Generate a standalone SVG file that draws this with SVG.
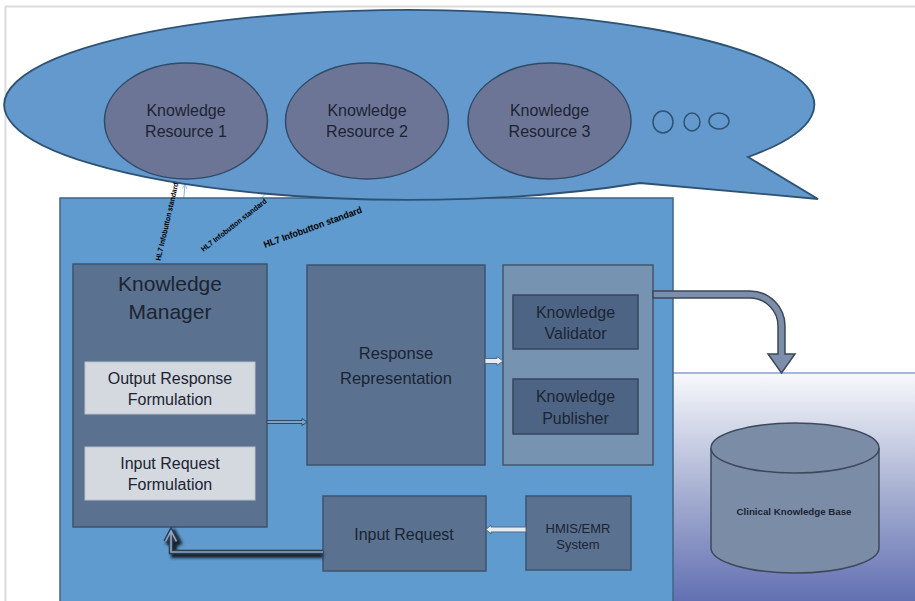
<svg xmlns="http://www.w3.org/2000/svg" width="915" height="601" viewBox="0 0 915 601">
<defs>
<linearGradient id="kbg" x1="0" y1="0" x2="0" y2="1">
<stop offset="0" stop-color="#f8f9fc"/>
<stop offset="0.5" stop-color="#aab3d4"/>
<stop offset="1" stop-color="#6270b2"/>
</linearGradient>
<filter id="sh" x="-20%" y="-50%" width="140%" height="200%"><feGaussianBlur stdDeviation="1.6"/></filter>
<marker id="lb" viewBox="0 0 10 10" refX="9" refY="5" markerWidth="6" markerHeight="6" orient="auto"><path d="M1 1 L9 5 L1 9" fill="none" stroke="#7fb2e2" stroke-width="1.2"/></marker>
</defs>
<style>
.t{font-family:"Liberation Sans",Arial,sans-serif;fill:#1b2433;text-anchor:middle}
.box{fill:#5a7190;stroke:#3e5470;stroke-width:1.5}
.light{fill:#d4d8df;stroke:#b9c0cb;stroke-width:1}
.dark{fill:#4d6484;stroke:#33475f;stroke-width:1.5}
.res{fill:#6d7596;stroke:#2f4b68;stroke-width:1.5}
.dot{fill:#6399cd;stroke:#2e5273;stroke-width:1.5}
.hl7{font-family:"Liberation Sans",Arial,sans-serif;font-weight:bold;fill:#000}
.cn{fill:none;stroke:#7fb2e2;stroke-width:1}
</style>
<path d="M5.5 601 V6.5 H915" fill="none" stroke="#dcdcdc" stroke-width="2"/>

<g id="connectors-hl7">
<line class="cn" x1="178" y1="264" x2="185" y2="184" marker-end="url(#lb)"/>
<line class="cn" x1="205" y1="262" x2="267" y2="192"/>
<line class="cn" x1="270" y1="262" x2="395" y2="197"/>
</g>

<g id="kb-area">
<rect x="673" y="373" width="242" height="228" fill="url(#kbg)"/>
<line x1="673" y1="373" x2="915" y2="373" stroke="#4e6fc2" stroke-width="1.2"/>
</g>

<g id="main-box">
<rect x="60" y="198" width="613" height="410" fill="#5f9bcf" stroke="#3f6688" stroke-width="1.5"/>
</g>

<g id="resources-bubble">
<path d="M748 157 L818 199 L640 183 A405 95 0 1 1 748 157 Z" fill="#6399cd" stroke="#2e5273" stroke-width="1.8"/>
</g>
<g id="resource-1">
<ellipse class="res" cx="186" cy="121" rx="81.5" ry="58"/>
<text class="t" x="186" y="116" font-size="16">Knowledge</text>
<text class="t" x="186" y="137" font-size="16">Resource 1</text>
</g>
<g id="resource-2">
<ellipse class="res" cx="367" cy="121" rx="81.5" ry="58"/>
<text class="t" x="367" y="116" font-size="16">Knowledge</text>
<text class="t" x="367" y="137" font-size="16">Resource 2</text>
</g>
<g id="resource-3">
<ellipse class="res" cx="549.5" cy="121" rx="81.5" ry="58"/>
<text class="t" x="549.5" y="116" font-size="16">Knowledge</text>
<text class="t" x="549.5" y="137" font-size="16">Resource 3</text>
</g>
<g id="more-resources">
<ellipse class="dot" cx="663" cy="122" rx="10" ry="11"/>
<ellipse class="dot" cx="692" cy="122" rx="8" ry="9"/>
<ellipse class="dot" cx="719" cy="121" rx="10" ry="8"/>
</g>

<g id="knowledge-manager">
<rect class="box" x="73" y="264" width="194" height="263"/>
<text class="t" x="170" y="291" font-size="21">Knowledge</text>
<text class="t" x="170" y="319" font-size="21">Manager</text>
</g>
<g id="output-response-formulation">
<rect class="light" x="85" y="362" width="170" height="52"/>
<text class="t" x="170" y="384" font-size="16">Output Response</text>
<text class="t" x="170" y="405" font-size="16">Formulation</text>
</g>
<g id="input-request-formulation">
<rect class="light" x="85" y="447" width="170" height="53"/>
<text class="t" x="170" y="469" font-size="16">Input Request</text>
<text class="t" x="170" y="490" font-size="16">Formulation</text>
</g>

<g id="response-representation">
<rect class="box" x="307" y="265" width="178" height="200"/>
<text class="t" x="396" y="359" font-size="16.5">Response</text>
<text class="t" x="396" y="384" font-size="16.5">Representation</text>
</g>

<g id="validation-publishing">
<rect x="503" y="265" width="150" height="200" fill="#7793b2" stroke="#44566a" stroke-width="1.5"/>
</g>
<g id="knowledge-validator">
<rect class="dark" x="513" y="295" width="125" height="54"/>
<text class="t" x="575.5" y="318" font-size="16">Knowledge</text>
<text class="t" x="575.5" y="339" font-size="16">Validator</text>
</g>
<g id="knowledge-publisher">
<rect class="dark" x="513" y="379" width="125" height="55"/>
<text class="t" x="575.5" y="402" font-size="16">Knowledge</text>
<text class="t" x="575.5" y="424" font-size="16">Publisher</text>
</g>

<g id="input-request">
<rect class="box" x="323" y="496" width="163" height="75"/>
<text class="t" x="404" y="540" font-size="16">Input Request</text>
</g>
<g id="hmis-emr">
<rect class="box" x="526" y="496" width="105" height="74"/>
<text class="t" x="578" y="533" font-size="13">HMIS/EMR</text>
<text class="t" x="578" y="549" font-size="13">System</text>
</g>

<g id="clinical-knowledge-base">
<path d="M711 448 V548 A84 25 0 0 0 879 548 V448" fill="#7a8ca6" stroke="#3c4a5a" stroke-width="1.5"/>
<ellipse cx="795" cy="448" rx="84" ry="25" fill="#7a8ca6" stroke="#3c4a5a" stroke-width="1.5"/>
<text class="t" x="794" y="514.5" font-size="9.5" font-weight="bold" textLength="115" lengthAdjust="spacingAndGlyphs">Clinical Knowledge Base</text>
</g>

<g id="connectors">
<path d="M267 420.5 H302 V418.5 L307 422 L302 425.5 V423.5 H267 Z" fill="#7fa2c4" stroke="#2f4a66" stroke-width="1"/>
<path d="M485 358.5 H497 V356.5 L503 361 L497 365.5 V363.5 H485 Z" fill="#e8ecf2" stroke="#556a80" stroke-width="1"/>
<path d="M526 527 H491 V525 L486 529.5 L491 534 V532 H526 Z" fill="#e6ebf1" stroke="#556a80" stroke-width="1"/>
<g>
<path d="M323 555 H174 V535 M168 545 L174 534 L180 545" fill="none" stroke="#15202e" stroke-width="6" filter="url(#sh)"/>
<path d="M323 552 H171 V531 M165.5 541.5 L171 531 L176.5 541.5" fill="none" stroke="#2d3d52" stroke-width="4.5"/>
<path d="M323 552 H171 V531 M165.5 541.5 L171 531 L176.5 541.5" fill="none" stroke="#93a7c0" stroke-width="1.6"/>
</g>
<path d="M653 291 H750 A35 35 0 0 1 785 326 V354 H795 L781.5 373 L768 354 H778 V326 A28 28 0 0 0 750 298 H653 Z" fill="#7d8eab" stroke="#3b4759" stroke-width="1.5"/>
</g>

<g id="hl7-labels">
<text class="hl7" font-size="7.5" textLength="80" lengthAdjust="spacingAndGlyphs" transform="translate(160.5 261) rotate(-77)">HL7 Infobutton standard</text>
<text class="hl7" font-size="7.5" textLength="81" lengthAdjust="spacingAndGlyphs" transform="translate(203.5 252) rotate(-38)">HL7 Infobutton standard</text>
<text class="hl7" font-size="9.5" textLength="104" lengthAdjust="spacingAndGlyphs" transform="translate(265 248) rotate(-20)">HL7 Infobutton standard</text>
</g>
</svg>
